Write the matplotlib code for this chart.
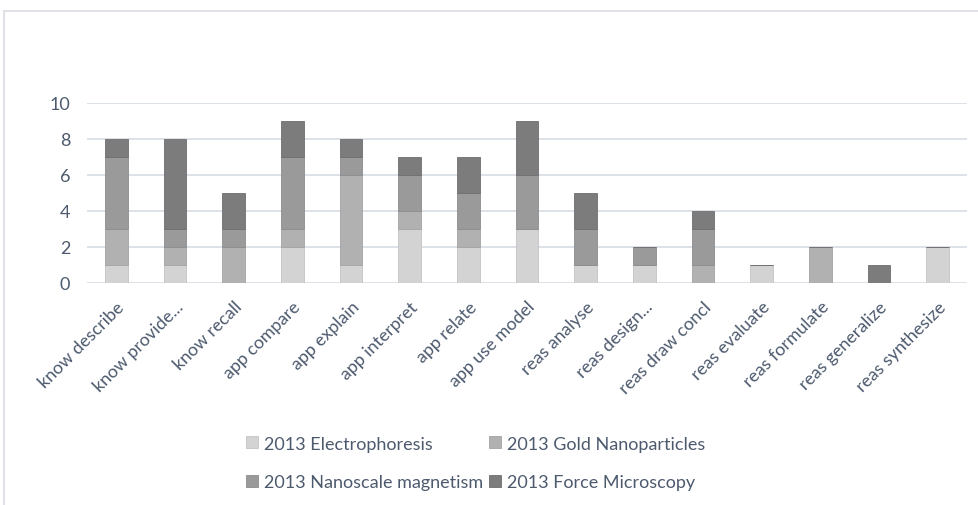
import matplotlib.pyplot as plt
from matplotlib.patches import Rectangle, Patch
import numpy as np

categories = ["know describe", "know provide...", "know recall", "app compare",
              "app explain", "app interpret", "app relate", "app use model",
              "reas analyse", "reas design...", "reas draw concl", "reas evaluate",
              "reas formulate", "reas generalize", "reas synthesize"]

electrophoresis = [1, 1, 0, 2, 1, 3, 2, 3, 1, 1, 0, 1, 0, 0, 2]
gold_nano       = [2, 1, 2, 1, 5, 1, 1, 0, 0, 0, 1, 0, 2, 0, 0]
nano_magnetism  = [4, 1, 1, 4, 1, 2, 2, 3, 2, 1, 2, 0, 0, 0, 0]
force_micro     = [1, 5, 2, 2, 1, 1, 2, 3, 2, 0, 1, 0, 0, 1, 0]

series_names = ["2013 Electrophoresis", "2013 Gold Nanoparticles",
                "2013 Nanoscale magnetism", "2013 Force Microscopy"]
series = [electrophoresis, gold_nano, nano_magnetism, force_micro]
colors = ["#d3d3d3", "#b1b1b1", "#9a9a9a", "#7c7c7c"]
edges = ["#c4c4c4", "#a3a3a3", "#8c8c8c", "#6e6e6e"]

text_col = "#4d5a6e"
plt.rcParams['font.family'] = ['Lato', 'DejaVu Sans']

fig = plt.figure(figsize=(9.79, 5.06), dpi=100)
ax = fig.add_axes([87/979, 1 - 284/506, 880/979, 180/506])

x = np.arange(len(categories))
bottom = np.zeros(len(categories))
for vals, c, ec in zip(series, colors, edges):
    vals = np.array(vals, dtype=float)
    ax.bar(x, vals, width=0.39, bottom=bottom, color=c, edgecolor=ec,
           linewidth=0.6, zorder=3)
    bottom += vals

ax.set_xlim(-0.5, len(categories) - 0.5)
ax.set_ylim(0, 10)
ax.set_yticks(range(0, 11, 2))
ax.yaxis.grid(True, color="#dadee6", linewidth=1.3, zorder=0)
ax.set_axisbelow(True)
for s in ax.spines.values():
    s.set_visible(False)
ax.tick_params(axis="both", length=0, colors=text_col)
ax.tick_params(axis="y", labelsize=13, pad=12)
ax.set_xticks(x)
ax.set_xticklabels(categories, rotation=45, ha="right", rotation_mode="anchor",
                   fontsize=12.8)
ax.tick_params(axis="x", pad=11)

# light frame around the chart area
fig.patches.append(Rectangle((4/979, -0.05), 1.2, 1 - 12/506 + 0.05,
                             transform=fig.transFigure, fill=False,
                             edgecolor="#d9dce3", linewidth=1.2))

handles = [Patch(facecolor=c, edgecolor=ec, linewidth=0.6)
           for c, ec in zip(colors, edges)]
order = [0, 2, 1, 3]
leg = fig.legend([handles[i] for i in order], [series_names[i] for i in order],
                 ncol=2, loc="center", bbox_to_anchor=(0.486, 1 - 464/506),
                 frameon=False, fontsize=13, handlelength=0.65, handleheight=0.65,
                 handletextpad=0.35, columnspacing=0.3, labelspacing=1.25)
for t in leg.get_texts():
    t.set_color(text_col)

fig.savefig("out.png", dpi=100)
